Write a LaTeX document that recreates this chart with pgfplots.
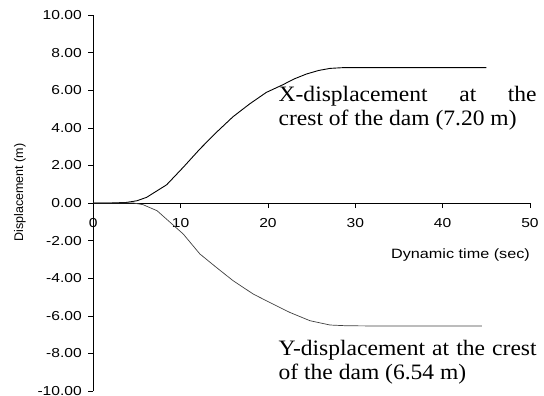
\documentclass[border=0pt]{standalone}
\usepackage{pgfplots}
\pgfplotsset{compat=1.18}
\usepackage{fontspec}
\setmainfont{Liberation Serif}
\newfontfamily\tickfont[FakeStretch=1.2]{Liberation Sans}
\newfontfamily\labelfont{Liberation Sans}
\newfontfamily\notefont[FakeStretch=1.07]{Liberation Serif}

% Horizontal displacement of the dam crest (m) against dynamic time (s)
\pgfplotstableread{
t     d
0     0
2     0
3.8   0.03
5.0   0.12
6.1   0.30
7.2   0.62
8.4   0.97
10.3  1.90
12.2  2.87
14.1  3.76
16.0  4.59
17.9  5.27
19.8  5.88
21.7  6.29
23.0  6.60
24.4  6.86
25.8  7.05
27.1  7.16
28.6  7.20
32    7.20
36    7.20
40    7.20
45    7.20
}\xdisp

% Vertical displacement of the dam crest (m)
\pgfplotstableread{
t     d
0     0
2     0
4.6   0
5.7   -0.09
7.3   -0.41
8.8   -1.03
10.3  -1.65
12.2  -2.71
14.1  -3.43
16.0  -4.13
18.3  -4.84
20.2  -5.29
22.5  -5.82
24.8  -6.26
27.1  -6.49
29.0  -6.53
32    -6.54
36    -6.54
40    -6.54
44.5  -6.54
}\ydisp

\begin{document}
\begin{tikzpicture}
\useasboundingbox (0,0) rectangle (544pt,-396pt);
\begin{axis}[
  at={(93.3pt,-391pt)}, anchor=south west,
  scale only axis, width=436.7pt, height=376pt,
  xmin=0, xmax=50, ymin=-10, ymax=10,
  axis x line=middle, axis y line=left,
  hide obscured x ticks=false, hide obscured y ticks=false,
  axis line style={-, black, line width=0.6pt},
  xtick={0,10,...,50}, ytick={-10,-8,...,10},
  tick align=outside, major tick length=5pt,
  tick style={black, line width=0.6pt},
  /pgf/number format/assume math mode=true,
  tick label style={font=\tickfont\fontsize{13}{15}\selectfont},
  y tick label style={xshift=-3pt, /pgf/number format/.cd, fixed, fixed zerofill, precision=2},
  x tick label style={yshift=-7pt, /pgf/number format/.cd, fixed, precision=0},
  clip=false,
]
\addplot[black, line width=0.9pt] table[x=t, y=d] {\xdisp};
\addplot[black!75, line width=0.7pt] table[x=t, y=d] {\ydisp};

\node[anchor=base east, inner sep=0pt, font=\tickfont\fontsize{13.5}{15}\selectfont]
  at (axis cs:50,-2.96) {Dynamic time (sec)};
\node[rotate=90, anchor=center, inner sep=0pt, font=\labelfont\fontsize{12.5}{14}\selectfont]
  at (axis cs:-8.4,0.55) {Displacement (m)};

\node[anchor=north west, inner sep=0pt, text width=258pt, align=justify,
      font=\notefont\fontsize{22}{24}\selectfont]
  at (axis cs:21.2,6.2) {X-displacement at the\linebreak crest of the dam (7.20 m)};
\node[anchor=north west, inner sep=0pt, text width=258pt, align=justify,
      font=\notefont\fontsize{22}{24}\selectfont]
  at (axis cs:21.2,-7.3) {Y-displacement at the crest\linebreak of the dam (6.54 m)};
\end{axis}
\end{tikzpicture}
\end{document}
